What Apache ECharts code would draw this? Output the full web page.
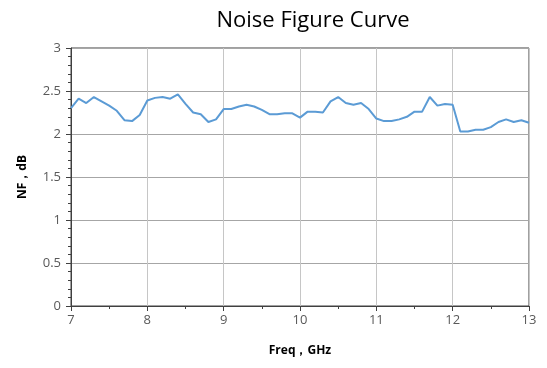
<!DOCTYPE html>
<html><head><meta charset="utf-8">
<script src="https://cdn.jsdelivr.net/npm/echarts@6/dist/echarts.min.js"></script>
<style>html,body{margin:0;padding:0;background:#fff}#c{width:547px;height:368px}</style>
</head><body><div id="c"></div>
<script>
var freqs = [7.0,7.1,7.2,7.3,7.4,7.5,7.6,7.7,7.8,7.9,
  8.0,8.1,8.2,8.3,8.4,8.5,8.6,8.7,8.8,8.9,
  9.0,9.1,9.2,9.3,9.4,9.5,9.6,9.7,9.8,9.9,
  10.0,10.1,10.2,10.3,10.4,10.5,10.6,10.7,10.8,10.9,
  11.0,11.1,11.2,11.3,11.4,11.5,11.6,11.7,11.8,11.9,
  12.0,12.1,12.2,12.3,12.4,12.5,12.6,12.7,12.8,12.9,13.0];
var nf = [2.30,2.41,2.36,2.43,2.38,2.33,2.27,2.16,2.15,2.22,
  2.39,2.42,2.43,2.41,2.46,2.35,2.25,2.23,2.14,2.17,
  2.29,2.29,2.32,2.34,2.32,2.28,2.23,2.23,2.24,2.24,
  2.19,2.26,2.26,2.25,2.38,2.43,2.36,2.34,2.36,2.29,
  2.18,2.15,2.15,2.17,2.20,2.26,2.26,2.43,2.33,2.35,
  2.34,2.03,2.03,2.05,2.05,2.08,2.14,2.17,2.14,2.16,2.13];
var titleText = 'Noise Figure Curve';
var xName = 'Freq，GHz';
var yName = 'NF，dB';

var chart = echarts.init(document.getElementById('c'), null, {renderer:'canvas'});
var lblFont = {color:'#595959', fontSize:13, fontFamily:'Open Sans'};
chart.setOption({
  animation:false,
  title:{text:titleText, left:308, top:5, textAlign:'center',
    textStyle:{fontFamily:'Open Sans', fontWeight:'normal', fontSize:22, color:'#000'}},
  grid:{left:71, right:18, top:48, bottom:62, show:true, borderColor:'#404040', borderWidth:1, backgroundColor:'transparent'},
  xAxis:{type:'value', min:7, max:13, interval:1,
    name:xName, nameLocation:'middle', nameGap:39,
    nameTextStyle:{fontWeight:'bold', fontSize:12, color:'#000', fontFamily:'Open Sans'},
    axisLine:{lineStyle:{color:'#404040', width:1}},
    axisTick:{show:true, length:5, lineStyle:{color:'#404040'}},
    minorTick:{show:true, splitNumber:2, length:3, lineStyle:{color:'#404040'}},
    axisLabel:Object.assign({margin:8}, lblFont),
    splitLine:{show:true, lineStyle:{color:'#c6c6c6', width:1}}},
  yAxis:{type:'value', min:0, max:3, interval:0.5,
    name:yName, nameLocation:'middle', nameGap:42, nameRotate:90,
    nameTextStyle:{fontWeight:'bold', fontSize:12, color:'#000', fontFamily:'Open Sans'},
    axisLine:{show:true, lineStyle:{color:'#404040', width:1}},
    axisTick:{show:true, length:5, lineStyle:{color:'#404040'}},
    minorTick:{show:true, splitNumber:5, length:3, lineStyle:{color:'#404040'}},
    axisLabel:Object.assign({margin:10}, lblFont),
    splitLine:{show:true, lineStyle:{color:'#a6a6a6', width:1}}},
  series:[{type:'line', data:freqs.map(function(f,i){return [f, nf[i]];}),
    showSymbol:false, symbol:'none',
    lineStyle:{color:'#5b9bd5', width:2}}]
});
</script></body></html>
